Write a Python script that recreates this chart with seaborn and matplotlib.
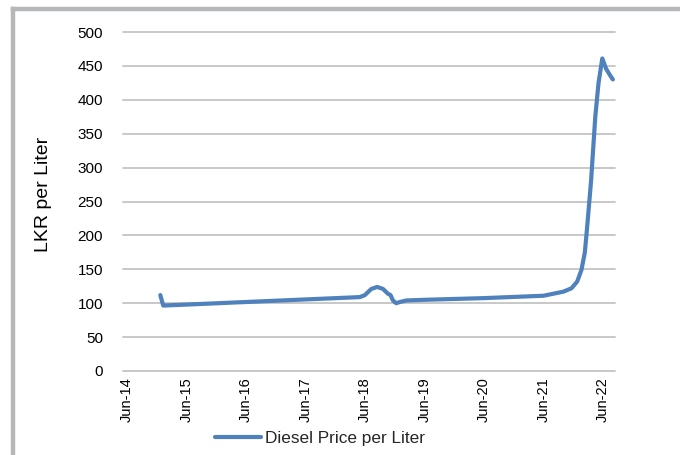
import matplotlib
matplotlib.use("Agg")
import matplotlib.pyplot as plt
import matplotlib.dates as mdates
from matplotlib.lines import Line2D
import pandas as pd
import seaborn as sns

# Diesel retail price in Sri Lanka (LKR per liter)
dates = [
    "2014-12-23", "2015-01-10", "2018-05-01", "2018-06-01", "2018-07-10",
    "2018-08-15", "2018-09-20", "2018-10-20", "2018-11-05", "2018-11-20",
    "2018-12-10", "2019-01-05", "2019-02-10", "2019-06-01", "2020-06-01",
    "2021-06-01", "2021-10-01", "2021-11-20", "2021-12-25", "2022-01-20",
    "2022-02-10", "2022-02-25", "2022-03-20", "2022-04-15", "2022-05-05",
    "2022-05-28", "2022-06-20", "2022-07-15", "2022-08-01",
]
prices = [
    112, 96.5, 109, 112, 121,
    124, 121, 114, 112, 104,
    100, 102, 104, 105, 107.5,
    111, 117, 122, 132, 149,
    175, 215, 280, 375, 425,
    461, 446, 436, 430,
]
series_name = "Diesel Price per Liter"
tick_dates = ["2014-06-01", "2015-06-01", "2016-06-01", "2017-06-01", "2018-06-01",
              "2019-06-01", "2020-06-01", "2021-06-01", "2022-06-01"]
y_ticks = [0, 50, 100, 150, 200, 250, 300, 350, 400, 450, 500]

df = pd.DataFrame({"Date": pd.to_datetime(dates), "Price": prices})

sns.set_theme(style="white")
plt.rcParams["font.family"] = ["Liberation Sans", "DejaVu Sans"]

line_color = "#4F81BD"
grid_color = "#C4C4C4"

fig = plt.figure(figsize=(6.8, 4.55), dpi=100)
ax = fig.add_axes([123 / 680, 1 - 371 / 455, (615 - 123) / 680, (371 - 32) / 455])

sns.lineplot(data=df, x="Date", y="Price", ax=ax, color=line_color,
             linewidth=3.0, legend=False, solid_capstyle="round",
             solid_joinstyle="round")

ax.set_ylim(0, 500)
ax.set_xlim(pd.Timestamp("2014-05-08"), pd.Timestamp("2022-08-14"))
ax.set_yticks(y_ticks)
ax.set_xticks(pd.to_datetime(tick_dates))
ax.xaxis.set_major_formatter(mdates.DateFormatter("%b-%y"))

for s in ax.spines.values():
    s.set_visible(False)
ax.yaxis.grid(True, color=grid_color, linewidth=1.3)
ax.xaxis.grid(False)
for gl in ax.get_ygridlines():
    gl.set_clip_on(False)
ax.set_axisbelow(True)

ax.tick_params(axis="y", length=0, pad=14.4, labelsize=11, labelcolor="#000000")
ax.tick_params(axis="x", length=0, pad=4.3, labelsize=10.5, labelcolor="#000000",
               rotation=90)

ax.set_xlabel("")
ax.set_ylabel("LKR per Liter", fontsize=14, color="#000000")
ax.yaxis.set_label_coords(-0.144, 0.52)

handle = Line2D([], [], color=line_color, linewidth=3.0, solid_capstyle="round")
fig.legend([handle], [series_name], loc="center",
           bbox_to_anchor=(320 / 680, 1 - 438 / 455), frameon=False,
           fontsize=12.4, handlelength=2.7, handletextpad=0.25,
           borderpad=0, borderaxespad=0)

# chart area frame on the left and top
fig.add_artist(Line2D([13 / 680, 13 / 680], [0, 1 - 9 / 455],
                      transform=fig.transFigure, color="#B5B7B9", linewidth=3.2,
                      solid_capstyle="projecting"))
fig.add_artist(Line2D([13 / 680, 1], [1 - 9 / 455, 1 - 9 / 455],
                      transform=fig.transFigure, color="#B5B7B9", linewidth=3.2,
                      solid_capstyle="projecting"))

fig.savefig("out.png", dpi=100, facecolor="white")
